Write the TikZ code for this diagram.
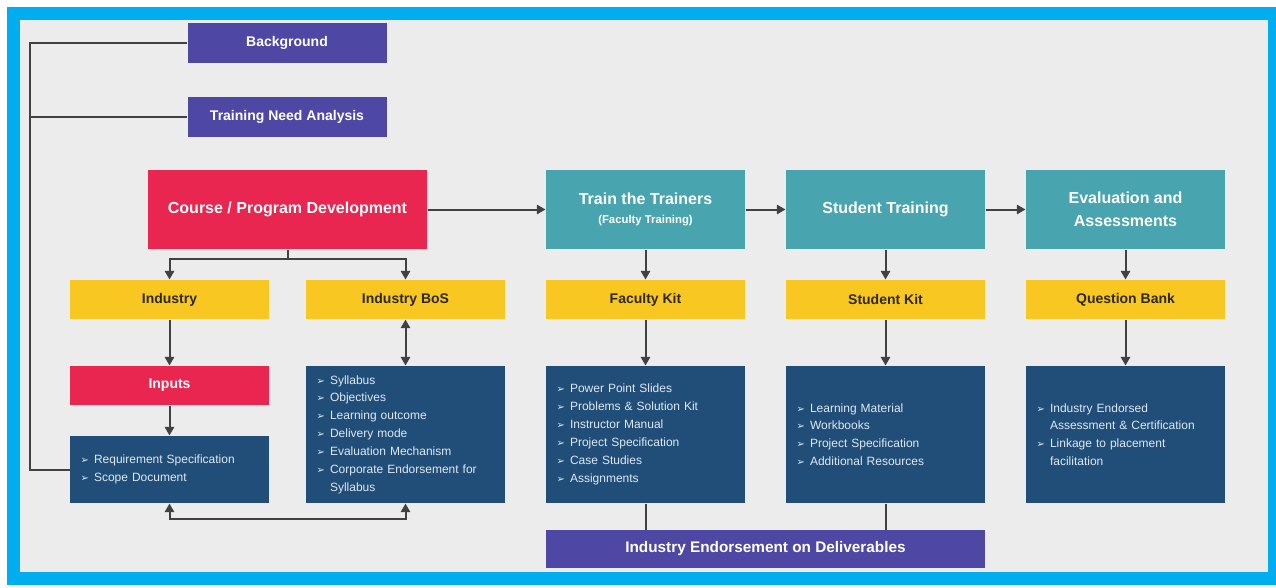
\documentclass[tikz,border=0pt]{standalone}
\usepackage{fontspec}
\setmainfont{Liberation Sans}
\newfontfamily\symfnt{DejaVu Sans}
\usetikzlibrary{arrows.meta}

\definecolor{frameblue}{RGB}{0,174,239}
\definecolor{panelgray}{RGB}{236,236,236}
\definecolor{purplebox}{RGB}{78,72,164}
\definecolor{crimsonbox}{RGB}{232,38,79}
\definecolor{tealbox}{RGB}{72,165,176}
\definecolor{kityellow}{RGB}{249,199,33}
\definecolor{kittext}{RGB}{45,40,30}
\definecolor{listblue}{RGB}{33,78,120}
\definecolor{listtext}{RGB}{222,232,242}
\definecolor{linkgray}{RGB}{65,65,65}

\newcommand{\bul}{{\symfnt\fontsize{7.5}{7.5}\selectfont ➢}}
\newcommand{\itm}[1]{\makebox[10pt][l]{\bul}#1}
\newcommand{\cnt}[1]{\hspace*{10pt}#1}

\tikzset{every picture/.style={line width=0.75pt}}
\tikzset{
  box/.style={rectangle, inner sep=0pt, align=center, text=white},
  purple/.style={box, fill=purplebox, minimum width=149.25pt, minimum height=30pt, font=\bfseries\fontsize{10.5}{12}\selectfont},
  crimson/.style={box, fill=crimsonbox, minimum height=29.25pt, font=\bfseries\fontsize{10.5}{12}\selectfont},
  headbox/.style={box, fill=tealbox, minimum width=149.25pt, minimum height=59.25pt, font=\bfseries\fontsize{12}{17}\selectfont},
  kitbox/.style={box, fill=kityellow, text=kittext, minimum width=149.25pt, minimum height=29.25pt, font=\bfseries\fontsize{10.5}{12}\selectfont},
  listbox/.style={rectangle, fill=listblue, text=listtext, minimum height=102.75pt, text width=133.25pt, inner xsep=8pt, inner ysep=0pt, align=left, font=\fontsize{9}{13.4}\selectfont},
  link/.style={draw=linkgray, line width=1.5pt},
  arr/.style={link, -{Triangle[length=6.5pt,width=7pt]}},
  dblarr/.style={link, {Triangle[length=6.5pt,width=7pt]}-{Triangle[length=6.5pt,width=7pt]}},
}

\begin{document}
\begin{tikzpicture}[x=0.75pt,y=0.75pt,yscale=-1,xscale=1]
%set diagram: 1276 x 587
\fill[white] (0,0) rectangle (1276,587);
\useasboundingbox (0,0) rectangle (1276,587);
%Shape: Frame
\fill[frameblue] (7,7) rectangle (1276,585);
\fill[panelgray] (20,20) rectangle (1268,572);

%Shape: Rectangle, top left
\node[purple] (bg) at (287,42.5) {Background};
\node[purple] (tna) at (287,117) {Training Need Analysis};
\node[crimson, minimum width=209.25pt, minimum height=59.25pt, font=\bfseries\fontsize{12}{14}\selectfont] (course) at (287.5,209.5) {Course / Program Development};

%Shape: Rectangle, stage heads
\node[headbox] (train) at (645.5,209.5) {Train the Trainers\\[-3pt]{\fontsize{8.5}{10}\selectfont(Faculty Training)}};
\node[headbox] (student) at (885.5,209.5) {Student Training};
\node[headbox] (eval) at (1125.5,209.5) {Evaluation and\\Assessments};

%Shape: Rectangle, yellow row
\node[kitbox] (ind) at (169.5,299.5) {Industry};
\node[kitbox] (bos) at (405.5,299.5) {Industry BoS};
\node[kitbox] (fkit) at (645.5,299.5) {Faculty Kit};
\node[kitbox] (skit) at (885.5,299.5) {Student Kit};
\node[kitbox] (qbank) at (1125.5,299.5) {Question Bank};

\node[crimson, minimum width=149.25pt] (inputs) at (169.5,385.5) {Inputs};

%Shape: Rectangle, lists
\node[listbox, minimum height=50.25pt] (req) at (169.5,469.5) {\itm{Requirement Specification}\\\itm{Scope Document}};
\node[listbox] (boslist) at (405.5,434.5) {\itm{Syllabus}\\\itm{Objectives}\\\itm{Learning outcome}\\\itm{Delivery mode}\\\itm{Evaluation Mechanism}\\\itm{Corporate Endorsement for}\\\cnt{Syllabus}};
\node[listbox] (flist) at (645.5,434.5) {\itm{Power Point Slides}\\\itm{Problems \& Solution Kit}\\\itm{Instructor Manual}\\\itm{Project Specification}\\\itm{Case Studies}\\\itm{Assignments}};
\node[listbox] (slist) at (885.5,434.5) {\itm{Learning Material}\\\itm{Workbooks}\\\itm{Project Specification}\\\itm{Additional Resources}};
\node[listbox] (qlist) at (1125.5,434.5) {\itm{Industry Endorsed}\\\cnt{Assessment \& Certification}\\\itm{Linkage to placement}\\\cnt{facilitation}};

\node[purple, minimum width=329.25pt, minimum height=28.5pt, font=\bfseries\fontsize{11.5}{13}\selectfont] (endorse) at (765.5,549) {Industry Endorsement on Deliverables};

%Straight Lines: left bus
\coordinate (bustop) at (30,42.5);
\coordinate (busbot) at (30,469.5);
\draw[link] (bg.west) -- (bustop) -- (busbot) -- (req.west);
\draw[link] (tna.west) -- (tna.west -| bustop);

%Straight Lines: flow
\draw[arr] (course.east) -- (train.west);
\draw[arr] (train.east) -- (student.west);
\draw[arr] (student.east) -- (eval.west);

\coordinate (split) at (287.5,259);
\draw[arr] (course.south) -- (split) -| (ind.north);
\draw[arr] (split) -| (bos.north);
\draw[arr] (ind) -- (inputs);
\draw[arr] (inputs) -- (req);
\draw[dblarr] (bos) -- (boslist);
\draw[dblarr] (req.south) -- ++(0,15) -| (boslist.south);

\draw[arr] (train) -- (fkit);
\draw[arr] (fkit) -- (flist);
\draw[arr] (student) -- (skit);
\draw[arr] (skit) -- (slist);
\draw[arr] (eval) -- (qbank);
\draw[arr] (qbank) -- (qlist);

\draw[link] (flist.south) -- (flist.south |- endorse.north);
\draw[link] (slist.south) -- (slist.south |- endorse.north);

\end{tikzpicture}
\end{document}
